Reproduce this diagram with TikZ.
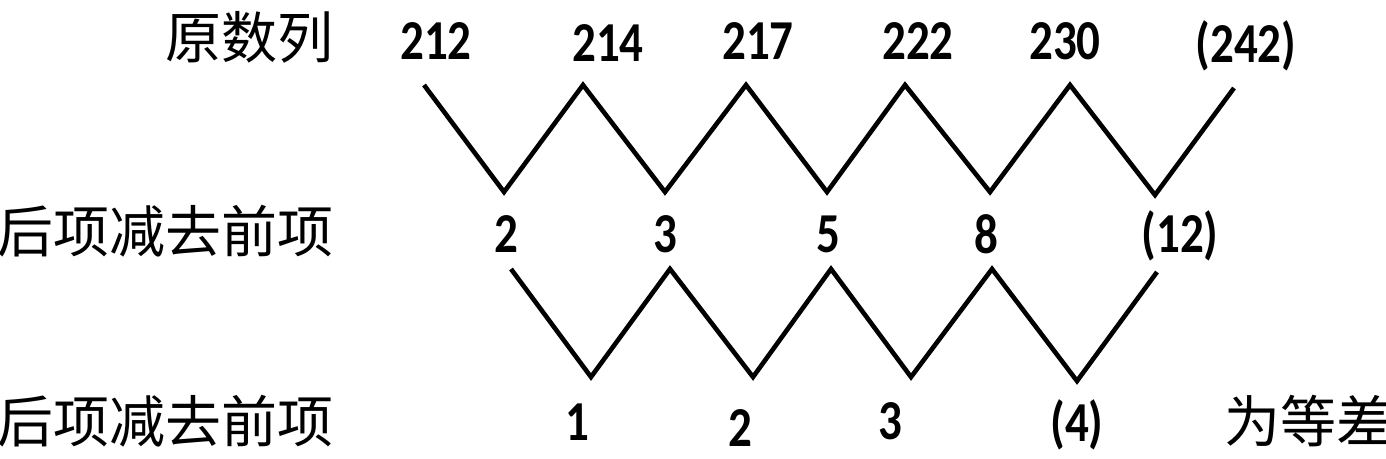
\documentclass[tikz,border=0pt]{standalone}
\usepackage{fontspec}
\setmainfont{Carlito}
\newfontfamily\cjk{Noto Sans CJK SC}
\newcommand\tallnum[1]{\scalebox{1}[1.2]{#1}}

\begin{document}
\begin{tikzpicture}[x=0.5pt,y=-0.5pt,
    num/.style={font=\fontsize{23.5}{25}\selectfont\bfseries, inner sep=0pt},
    lab/.style={font=\cjk\fontsize{28}{30}\selectfont, inner sep=0pt},
    zig/.style={line width=2.3pt, line join=miter}]
\useasboundingbox (0,0) rectangle (1386,459);

% row labels
\node [lab, anchor=east] (row1) at (334,37)  {原数列};
\node [lab, anchor=east] (row2) at (334,231) {后项减去前项};
\node [lab, anchor=east] (row3) at (334,421) {后项减去前项};
\node [lab, anchor=west] (note) at (1224,421) {为等差};

% numbers
\foreach \t/\x/\y [count=\i] in {212/436/41, 214/608/43, 217/758/41,
        222/918/41, 230/1065/41, (242)/1246/46}
    \node [num] (a\i) at (\x,\y) {\tallnum{\t}};
\foreach \t/\x/\y [count=\i] in {2/506/234, 3/665/234, 5/828/234,
        8/986/234, (12)/1180/236}
    \node [num] (d\i) at (\x,\y) {\tallnum{\t}};
\foreach \t/\x/\y [count=\i] in {1/577/422, 2/740/428, 3/890/421, (4)/1077/425}
    \node [num] (e\i) at (\x,\y) {\tallnum{\t}};

% zigzags
\foreach \x/\y [count=\i] in {424/85, 504/192, 583/85, 665/192,
        746/85, 827/192, 905/85, 990/192, 1070/85, 1155/195, 1234/88}
    \coordinate (t\i) at (\x,\y);
\foreach \x/\y [count=\i] in {511/269, 591/377, 670/269, 753/377,
        831/269, 911/377, 992/269, 1077/381, 1157/272}
    \coordinate (b\i) at (\x,\y);
\draw [zig] (t1) \foreach \i in {2,...,11} { -- (t\i) };
\draw [zig] (b1) \foreach \i in {2,...,9} { -- (b\i) };

\end{tikzpicture}
\end{document}
